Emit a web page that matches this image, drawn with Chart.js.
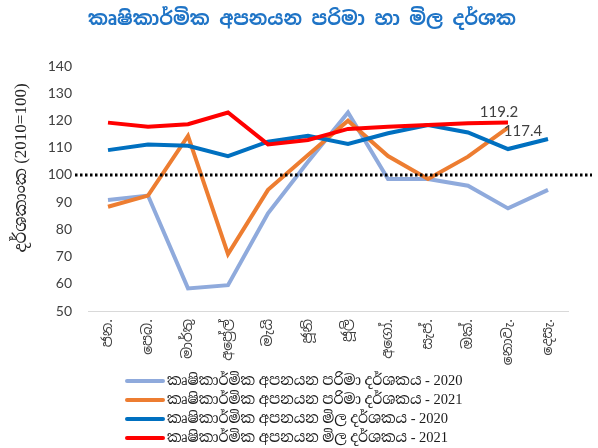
<!DOCTYPE html>
<html>
<head>
<meta charset="utf-8">
<script src="https://cdn.jsdelivr.net/npm/chart.js@4"></script>
<style>
    html, body { margin: 0; padding: 0; background: #fff; }
</style>
</head>
<body>
<canvas id="exportChart" width="598" height="448"></canvas>
<script>
const months = ['ජන.', 'පෙබ.', 'මාර්තු', 'අප්‍රේල්', 'මැයි', 'ජූනි', 'ජූලි', 'අගෝ.', 'සැප්.', 'ඔක්.', 'නොවැ.', 'දෙසැ.'];
const volume2020 = [90.8, 92.4, 58.3, 59.5, 85.9, 104.8, 122.9, 98.5, 98.5, 96.0, 87.7, 94.5];
const volume2021 = [88.3, 92.4, 114.3, 70.9, 94.5, 107.3, 119.9, 106.9, 98.5, 106.7, 117.4, null];
const price2020 = [109.1, 111.2, 110.7, 106.9, 112.2, 114.4, 111.4, 115.3, 118.3, 115.6, 109.5, 113.2];
const price2021 = [119.2, 117.7, 118.6, 122.9, 111.2, 112.8, 116.9, 117.7, 118.3, 119.0, 119.2, null];
const seriesNames = [
    'කෘෂිකාර්මික අපනයන පරිමා දර්ශකය - 2020',
    'කෘෂිකාර්මික අපනයන පරිමා දර්ශකය - 2021',
    'කෘෂිකාර්මික අපනයන මිල දර්ශකය - 2020',
    'කෘෂිකාර්මික අපනයන මිල දර්ශකය - 2021'
];
const yTicks = [50, 60, 70, 80, 90, 100, 110, 120, 130, 140];
const baseLine = 100;
const chartTitle = 'කෘෂිකාර්මික අපනයන පරිමා හා මිල දර්ශක';

const sinhala = '"Noto Sans Sinhala", "Noto Serif Sinhala", "Iskoola Pota", sans-serif';
const serif = '"Liberation Serif", "Noto Serif Sinhala", "Noto Sans Sinhala", serif';

// extras: title, rotated month labels, y title, 100 line, end labels, legend
const extras = {
    id: 'extras',
    afterDraw(chart) {
        const ctx = chart.ctx;
        const x = chart.scales.x;
        const y = chart.scales.y;

        ctx.save();
        // title
        ctx.fillStyle = '#1F74C6';
        ctx.font = 'bold 19px ' + sinhala;
        ctx.textAlign = 'center';
        ctx.textBaseline = 'middle';
        ctx.fillText(chartTitle, 302, 20);

        // dotted 100 line
        const y100 = y.getPixelForValue(baseLine);
        ctx.strokeStyle = '#000';
        ctx.lineWidth = 3;
        ctx.setLineDash([2.5, 2.5]);
        ctx.beginPath();
        ctx.moveTo(75, y100);
        ctx.lineTo(592, y100);
        ctx.stroke();
        ctx.setLineDash([]);

        // month labels, rotated
        ctx.fillStyle = '#404040';
        ctx.font = '14px ' + sinhala;
        ctx.textAlign = 'right';
        months.forEach((m, i) => {
            ctx.save();
            ctx.translate(x.getPixelForValue(i), 319);
            ctx.rotate(-Math.PI / 2);
            ctx.fillText(m, 0, 0);
            ctx.restore();
        });

        // y title
        ctx.save();
        ctx.translate(22, 168);
        ctx.rotate(-Math.PI / 2);
        ctx.textAlign = 'center';
        ctx.fillStyle = '#262626';
        ctx.font = '17px ' + serif;
        ctx.fillText('දර්ශකාංක (2010=100)', 0, 0);
        ctx.restore();

        // end labels
        ctx.font = '15px Lato, "Open Sans", sans-serif';
        ctx.fillStyle = '#404040';
        ctx.textAlign = 'center';
        const redPt = chart.getDatasetMeta(3).data[10];
        ctx.fillText(price2021[10].toFixed(1), redPt.x - 9, redPt.y - 10);
        const orPt = chart.getDatasetMeta(1).data[10];
        ctx.fillText(volume2021[10].toFixed(1), orPt.x + 15, orPt.y + 4);

        // legend
        ctx.textAlign = 'left';
        ctx.font = '14.5px ' + serif;
        chart.data.datasets.forEach((ds, i) => {
            const ly = 381 + i * 19;
            ctx.strokeStyle = ds.borderColor;
            ctx.lineWidth = 4;
            ctx.lineCap = 'round';
            ctx.beginPath();
            ctx.moveTo(127, ly);
            ctx.lineTo(163, ly);
            ctx.stroke();
            ctx.fillStyle = '#1a1a1a';
            ctx.fillText(ds.label, 167, ly);
        });
        ctx.restore();
    }
};

new Chart(document.getElementById('exportChart').getContext('2d'), {
    type: 'line',
    data: {
        labels: months,
        datasets: [
            { label: seriesNames[0], data: volume2020, borderColor: '#8FAADC', order: 4 },
            { label: seriesNames[1], data: volume2021, borderColor: '#ED7D31', order: 3 },
            { label: seriesNames[2], data: price2020, borderColor: '#0070C0', order: 2 },
            { label: seriesNames[3], data: price2021, borderColor: '#FF0000', order: 1 }
        ]
    },
    options: {
        responsive: false,
        animation: false,
        devicePixelRatio: 1,
        datasets: {
            line: { borderWidth: 4, pointRadius: 0, tension: 0, fill: false, spanGaps: false }
        },
        layout: { padding: { left: 6, right: 30, top: 66, bottom: 0 } },
        plugins: {
            legend: { display: false },
            tooltip: { enabled: false },
            title: { display: false }
        },
        scales: {
            x: {
                offset: true,
                grid: { display: false, drawTicks: false },
                border: { color: '#d9d9d9', width: 1 },
                ticks: { display: false },
                afterFit: s => { s.height = 137; }
            },
            y: {
                min: 50,
                max: 140,
                afterBuildTicks: s => { s.ticks = yTicks.map(v => ({ value: v })); },
                grid: { display: false, drawTicks: false },
                border: { display: false },
                ticks: {
                    padding: 16,
                    color: '#404040',
                    font: { size: 14, family: 'Lato, "Open Sans", sans-serif' }
                },
                afterFit: s => { s.width = 82; }
            }
        }
    },
    plugins: [extras]
});
</script>
</body>
</html>
